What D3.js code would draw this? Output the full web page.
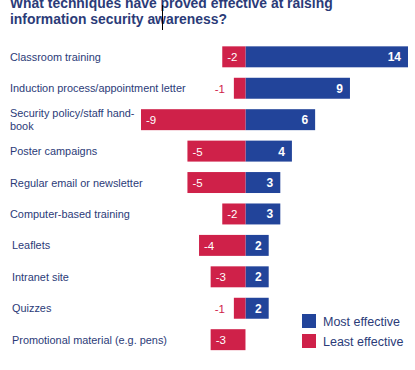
<!DOCTYPE html>
<html><head><meta charset="utf-8">
<script src="https://cdn.jsdelivr.net/npm/d3@7"></script>
<style>body{margin:0;background:#fff}svg{display:block}text{font-family:Arial,"Liberation Sans",sans-serif}</style>
</head><body><svg id="c" width="415" height="370"></svg>
<script>
const categories = [
  ["Classroom training"],
  ["Induction process/appointment letter"],
  ["Security policy/staff hand-", "book"],
  ["Poster campaigns"],
  ["Regular email or newsletter"],
  ["Computer-based training"],
  ["Leaflets"],
  ["Intranet site"],
  ["Quizzes"],
  ["Promotional material (e.g. pens)"]
];
const mostEffective = [14, 9, 6, 4, 3, 3, 2, 2, 2, 0];
const leastEffective = [-2, -1, -9, -5, -5, -2, -4, -3, -1, -3];
const seriesNames = ["Most effective", "Least effective"];
const titleLines = ["What techniques have proved effective at raising", "information security awareness?"];

const blue = "#22449a", red = "#cf2149", navy = "#2b3b78";
const svg = d3.select("#c");
const x = d3.scaleLinear().domain([-9, 14]).range([141, 408]);
const y = d3.scaleBand().domain(d3.range(categories.length)).range([41, 355.5]).paddingInner(0.333).paddingOuter(0.17);

// title (top line is cut off by the frame, as in the reference)
svg.append("g").selectAll("text").data(titleLines).join("text")
  .attr("x", 10).attr("y", (d, i) => 8 + i * 16)
  .attr("font-size", 13.9).attr("font-weight", "bold").attr("fill", navy).text(d => d);
svg.append("line").attr("x1", 162.5).attr("x2", 162.5).attr("y1", 5).attr("y2", 30).attr("stroke", "#000").attr("stroke-width", 1);

// labels
const lab = svg.append("g").selectAll("text").data(categories).join("text")
  .attr("font-size", 10.9).attr("fill", navy);
lab.each(function(d, i) {
  const t = d3.select(this);
  const cy = y(i) + y.bandwidth() / 2;
  const n = d.length;
  d.forEach((line, j) => {
    t.append("tspan").attr("x", i >= 6 ? 12 : 10).attr("y", cy + 4 + (j - (n - 1) / 2) * 13).text(line);
  });
});

// bars
const g = svg.append("g");
g.selectAll("rect.pos").data(mostEffective).join("rect").attr("class", "pos")
  .attr("x", x(0)).attr("y", (d, i) => y(i)).attr("height", y.bandwidth())
  .attr("width", d => x(d) - x(0)).attr("fill", blue);
g.selectAll("rect.neg").data(leastEffective).join("rect").attr("class", "neg")
  .attr("x", d => x(d)).attr("y", (d, i) => y(i)).attr("height", y.bandwidth())
  .attr("width", d => x(0) - x(d)).attr("fill", red);

g.selectAll("text.pos").data(mostEffective).join("text").attr("class", "pos")
  .attr("x", d => x(d) - 7).attr("y", (d, i) => y(i) + y.bandwidth() / 2 + 4.5)
  .attr("text-anchor", "end").attr("font-size", 12).attr("font-weight", "bold").attr("fill", "#fff")
  .text(d => d > 0 ? d : "");
g.selectAll("text.neg").data(leastEffective).join("text").attr("class", "neg")
  .attr("x", d => d <= -2 ? x(d) + 5 : x(d) - 9)
  .attr("y", (d, i) => y(i) + y.bandwidth() / 2 + 4.5)
  .attr("text-anchor", d => d <= -2 ? "start" : "end")
  .attr("font-size", 11.5).attr("fill", d => d <= -2 ? "#fff" : red).text(d => d);

// legend
const lg = svg.append("g").selectAll("g").data(seriesNames).join("g")
  .attr("transform", (d, i) => `translate(302,${314 + i * 20})`);
lg.append("rect").attr("width", 14).attr("height", 14).attr("fill", (d, i) => i === 0 ? blue : red);
lg.append("text").attr("x", 21).attr("y", 11.5).attr("font-size", 12.5).attr("fill", navy).text(d => d);
</script></body></html>
